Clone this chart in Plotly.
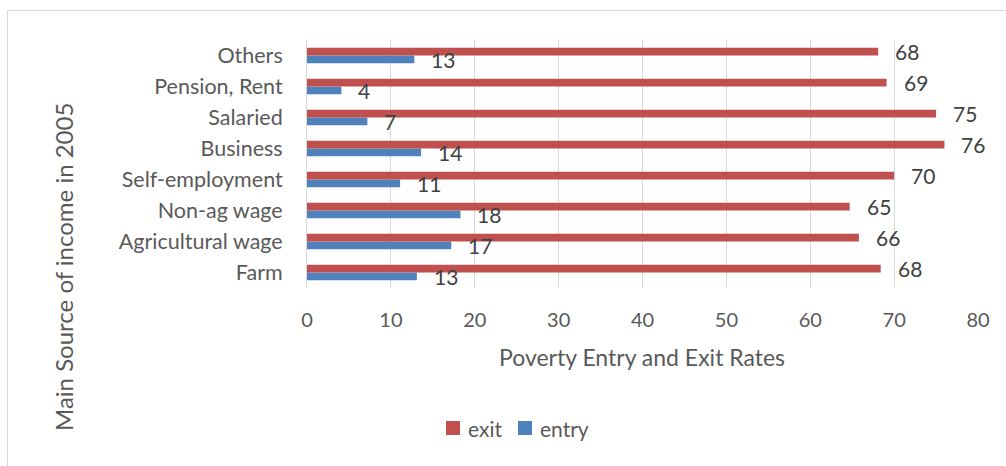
import plotly.graph_objects as go

# Main source of income (2005) and poverty transition rates (%)
categories = ["Farm", "Agricultural wage", "Non-ag wage", "Self-employment",
              "Business", "Salaried", "Pension, Rent", "Others"]
exit_rate = [68.4, 65.8, 64.7, 70.0, 76.0, 75.0, 69.1, 68.1]
entry_rate = [13.1, 17.2, 18.3, 11.1, 13.6, 7.2, 4.1, 12.8]
x_ticks = [0, 10, 20, 30, 40, 50, 60, 70, 80]
series_names = ["exit", "entry"]

RED = "#C0504D"
BLUE = "#4F81BD"
FONT = "Lato"
TXT = "#595959"
GRID = "#D9D9D9"

W, H = 1006, 466
L, R, T, B = 307, 28, 40, 178
PW, PH = W - L - R, H - T - B
SLOT = PH / len(categories)          # pixel height of one category slot
BAR_OFFSET = SLOT * 0.125            # half a bar from the slot centre


def px_x(x):
    """Pixel column -> paper x."""
    return (x - L) / PW


def px_y(y):
    """Pixel row (from top) -> paper y."""
    return (H - B - y) / PH


fig = go.Figure()
# entry first so that exit sits on the upper half of each category slot
fig.add_trace(go.Bar(
    name="entry", y=categories, x=entry_rate, orientation="h",
    marker=dict(color=BLUE, line=dict(width=0)), hoverinfo="skip",
))
fig.add_trace(go.Bar(
    name="exit", y=categories, x=exit_rate, orientation="h",
    marker=dict(color=RED, line=dict(width=0)), hoverinfo="skip",
))

# value labels, drawn above both bar layers
label_font = dict(family=FONT, size=21, color="#404040")
value_notes = []
for values, shift in ((exit_rate, BAR_OFFSET), (entry_rate, -BAR_OFFSET)):
    for cat, v in zip(categories, values):
        value_notes.append(dict(
            text=f"{v:.0f}", x=v, y=cat, xref="x", yref="y",
            xanchor="left", yanchor="middle", xshift=15, yshift=shift,
            showarrow=False, font=label_font))

# legend drawn as swatches + labels below the axis title
legend_items = [(series_names[0], RED, 446, 466), (series_names[1], BLUE, 518, 538)]
legend_shapes = []
legend_notes = []
for name, color, sx, tx in legend_items:
    legend_shapes.append(dict(
        type="rect", xref="paper", yref="paper",
        x0=px_x(sx), x1=px_x(sx + 14), y0=px_y(435), y1=px_y(421),
        fillcolor=color, line=dict(width=0)))
    legend_notes.append(dict(
        text=name, xref="paper", yref="paper", x=px_x(tx), y=px_y(428),
        xanchor="left", yanchor="middle", showarrow=False,
        font=dict(family=FONT, size=21, color=TXT)))

fig.update_layout(
    width=W, height=H,
    margin=dict(l=L, r=R, t=T, b=B, autoexpand=False),
    paper_bgcolor="white", plot_bgcolor="white",
    barmode="group", bargap=0.5, bargroupgap=0,
    font=dict(family=FONT, size=20, color=TXT),
    showlegend=False,
    xaxis=dict(
        range=[0, 80], tickvals=x_ticks, showgrid=True,
        gridcolor=GRID, gridwidth=1, zeroline=False, showline=False,
        ticks="", ticklabelstandoff=18,
        tickfont=dict(family=FONT, size=20, color=TXT),
        fixedrange=True,
    ),
    yaxis=dict(
        type="category", categoryorder="array", categoryarray=categories,
        range=[-0.5, len(categories) - 0.5],
        showline=True, linecolor=GRID, linewidth=1,
        showgrid=False, ticks="", ticklabelstandoff=19,
        tickfont=dict(family=FONT, size=21.5, color=TXT),
        fixedrange=True,
    ),
    annotations=[
        dict(text="Poverty Entry and Exit Rates", xref="paper", yref="paper",
             x=px_x(641.5), y=px_y(357), xanchor="center", yanchor="middle",
             showarrow=False, font=dict(family=FONT, size=23, color=TXT)),
        dict(text="Main Source of income in 2005", xref="paper", yref="paper",
             x=px_x(63), y=px_y(267), xanchor="center", yanchor="middle",
             textangle=-90, showarrow=False,
             font=dict(family=FONT, size=24, color=TXT)),
    ] + value_notes + legend_notes,
    shapes=[
        dict(type="line", xref="paper", yref="paper",
             x0=px_x(7), x1=px_x(W + 5), y0=px_y(10.5), y1=px_y(10.5),
             line=dict(color=GRID, width=1)),
        dict(type="line", xref="paper", yref="paper",
             x0=px_x(7.5), x1=px_x(7.5), y0=px_y(10), y1=px_y(H + 5),
             line=dict(color=GRID, width=1)),
    ] + legend_shapes,
)

fig.write_html("out.html")
